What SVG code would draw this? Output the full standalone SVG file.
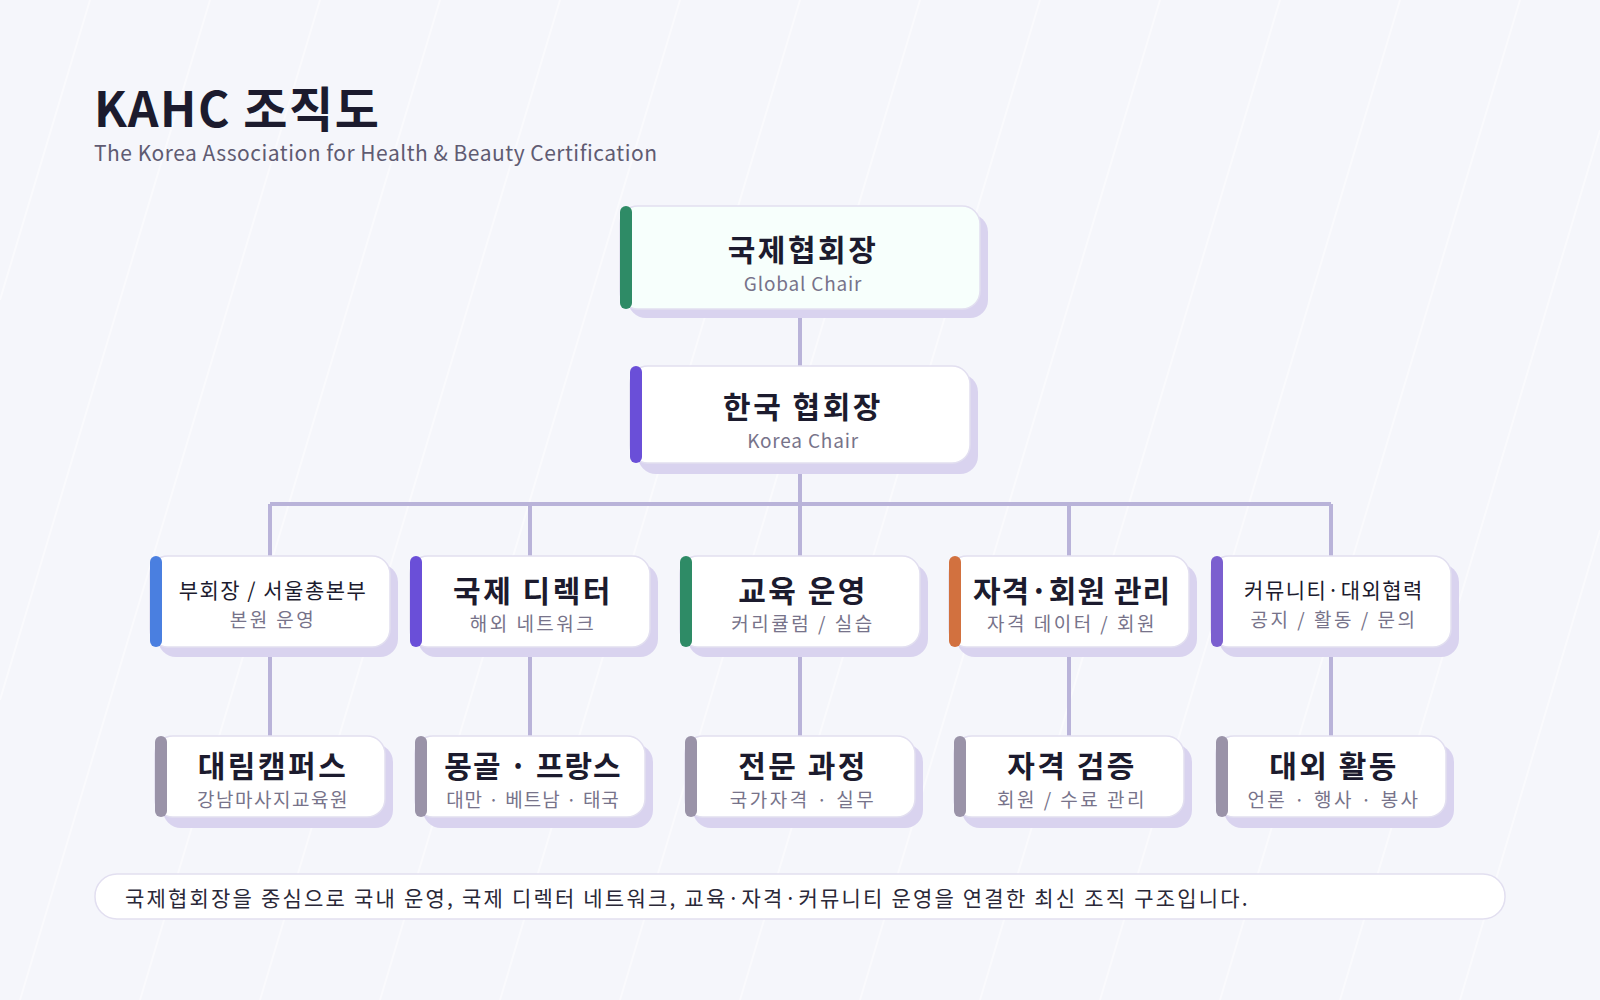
<svg xmlns="http://www.w3.org/2000/svg" width="1600" height="1000" viewBox="0 0 1600 1000">
<style>
text{font-family:"Noto Sans CJK KR","Noto Sans",sans-serif;text-anchor:middle}
.box{fill:#fff;stroke:#e2dff0;stroke-width:1.5}
.sh{fill:#d9d3ef}
.t{font-size:30px;font-weight:700;fill:#1c1b2e;letter-spacing:2.5px}
.tr{font-size:21px;font-weight:400;fill:#1c1b2e;letter-spacing:1.5px}
.s{font-size:19px;fill:#77738a;letter-spacing:2.5px}
.se{font-size:19px;fill:#77738a;letter-spacing:0.8px}
.c{stroke:#b9b3d9;stroke-width:4;fill:none}
</style>
<rect width="1600" height="1000" fill="#f5f6fb"/>
<g stroke="#ffffff" stroke-width="2" opacity="0.5">
<path d="M0 300L90 0M0 700L210 0M20 1000L320 0M140 1000L440 0M260 1000L560 0M380 1000L680 0M500 1000L800 0M620 1000L920 0M740 1000L1040 0M860 1000L1160 0M980 1000L1280 0M1100 1000L1400 0M1220 1000L1520 0M1340 1000L1600 130M1460 1000L1600 530"/>
</g>
<text x="94" y="127" style="text-anchor:start;font-size:48px;font-weight:700;fill:#1c1b2e;letter-spacing:1.5px">KAHC 조직도</text>
<text x="94" y="161" style="text-anchor:start;font-size:21px;fill:#5f5b72;letter-spacing:0.5px">The Korea Association for Health &amp; Beauty Certification</text>
<g id="connectors">
<path class="c" d="M800 310V366M800 462V504M270 504H1331M270 504V556M530 504V556M800 504V556M1069 504V556M1331 504V556M270 647V736M530 647V736M800 647V736M1069 647V736M1331 647V736"/>
</g>
<g id="n-global"><rect class="sh" x="628" y="214" width="360" height="104" rx="18"/><rect x="620" y="206" width="360" height="103" rx="18" fill="#f7fffc" stroke="#e2dff0" stroke-width="1.5"/><rect x="620" y="206" width="12" height="103" rx="6" fill="#2e8b66"/><text class="t" x="803" y="261">국제협회장</text><text class="se" x="803" y="291">Global Chair</text></g>
<g id="n-korea"><rect class="sh" x="638" y="374" width="340" height="100" rx="18"/><rect class="box" x="630" y="366" width="340" height="97" rx="18"/><rect x="630" y="366" width="12" height="97" rx="6" fill="#6a4fd8"/><text class="t" x="803" y="418">한국 협회장</text><text class="se" x="803" y="448">Korea Chair</text></g>
<g id="n-vp"><rect class="sh" x="158" y="564" width="240" height="93" rx="18"/><rect class="box" x="150" y="556" width="240" height="91" rx="18"/><rect x="150" y="556" width="12" height="91" rx="6" fill="#4a7fe0"/><text class="tr" x="273" y="598">부회장 / 서울총본부</text><text class="s" x="273" y="627">본원 운영</text></g>
<g id="n-intl"><rect class="sh" x="418" y="564" width="240" height="93" rx="18"/><rect class="box" x="410" y="556" width="240" height="91" rx="18"/><rect x="410" y="556" width="12" height="91" rx="6" fill="#6a4fd8"/><text class="t" x="533" y="602">국제 디렉터</text><text class="s" x="533" y="631">해외 네트워크</text></g>
<g id="n-edu"><rect class="sh" x="688" y="564" width="240" height="93" rx="18"/><rect class="box" x="680" y="556" width="240" height="91" rx="18"/><rect x="680" y="556" width="12" height="91" rx="6" fill="#2e8b66"/><text class="t" x="803" y="602">교육 운영</text><text class="s" x="803" y="631">커리큘럼 / 실습</text></g>
<g id="n-cert"><rect class="sh" x="957" y="564" width="240" height="93" rx="18"/><rect class="box" x="949" y="556" width="240" height="91" rx="18"/><rect x="949" y="556" width="12" height="91" rx="6" fill="#d2713f"/><text class="t" x="1072" y="602" style="letter-spacing:1px">자격·회원 관리</text><text class="s" x="1072" y="631">자격 데이터 / 회원</text></g>
<g id="n-comm"><rect class="sh" x="1219" y="564" width="240" height="93" rx="18"/><rect class="box" x="1211" y="556" width="240" height="91" rx="18"/><rect x="1211" y="556" width="12" height="91" rx="6" fill="#7b5fcf"/><text class="tr" x="1334" y="598">커뮤니티·대외협력</text><text class="s" x="1334" y="627">공지 / 활동 / 문의</text></g>
<g id="n-daelim"><rect class="sh" x="163" y="744" width="230" height="84" rx="18"/><rect class="box" x="155" y="736" width="230" height="81" rx="18"/><rect x="155" y="736" width="12" height="81" rx="6" fill="#9a93a8"/><text class="t" x="273" y="777">대림캠퍼스</text><text class="s" x="273" y="807" style="letter-spacing:1.5px">강남마사지교육원</text></g>
<g id="n-mongol"><rect class="sh" x="423" y="744" width="230" height="84" rx="18"/><rect class="box" x="415" y="736" width="230" height="81" rx="18"/><rect x="415" y="736" width="12" height="81" rx="6" fill="#9a93a8"/><text class="t" x="533" y="777" style="letter-spacing:1px">몽골 · 프랑스</text><text class="s" x="533" y="807" style="letter-spacing:1px">대만 · 베트남 · 태국</text></g>
<g id="n-course"><rect class="sh" x="693" y="744" width="230" height="84" rx="18"/><rect class="box" x="685" y="736" width="230" height="81" rx="18"/><rect x="685" y="736" width="12" height="81" rx="6" fill="#9a93a8"/><text class="t" x="803" y="777">전문 과정</text><text class="s" x="803" y="807">국가자격 · 실무</text></g>
<g id="n-verify"><rect class="sh" x="962" y="744" width="230" height="84" rx="18"/><rect class="box" x="954" y="736" width="230" height="81" rx="18"/><rect x="954" y="736" width="12" height="81" rx="6" fill="#9a93a8"/><text class="t" x="1072" y="777">자격 검증</text><text class="s" x="1072" y="807">회원 / 수료 관리</text></g>
<g id="n-ext"><rect class="sh" x="1224" y="744" width="230" height="84" rx="18"/><rect class="box" x="1216" y="736" width="230" height="81" rx="18"/><rect x="1216" y="736" width="12" height="81" rx="6" fill="#9a93a8"/><text class="t" x="1334" y="777">대외 활동</text><text class="s" x="1334" y="807">언론 · 행사 · 봉사</text></g>
<g id="footer"><rect x="95" y="874" width="1410" height="45" rx="22" fill="#fff" stroke="#e2dff0" stroke-width="1.5"/><text x="125" y="906" style="text-anchor:start;font-size:21px;fill:#2a2838;letter-spacing:2.2px">국제협회장을 중심으로 국내 운영, 국제 디렉터 네트워크, 교육·자격·커뮤니티 운영을 연결한 최신 조직 구조입니다.</text></g>
</svg>
